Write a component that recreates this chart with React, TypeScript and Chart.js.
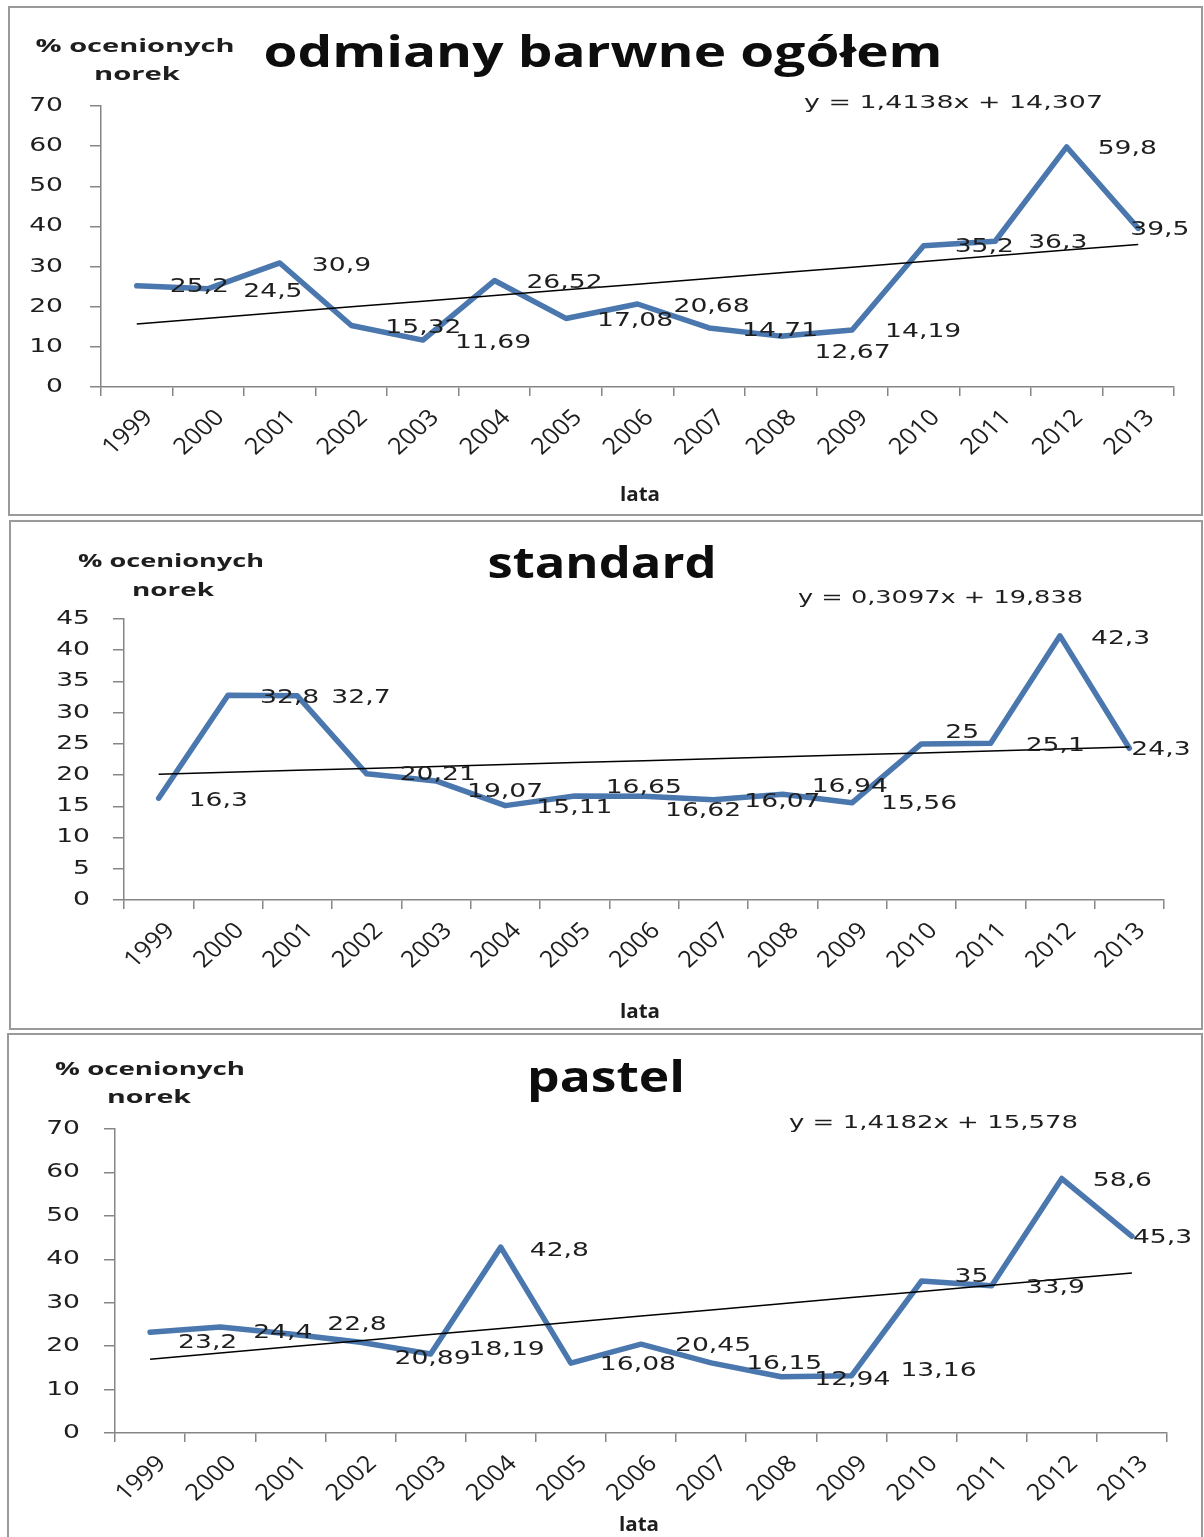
import React, { useEffect, useRef } from "react";
import { Chart, registerables } from "chart.js";

Chart.register(...registerables);

// ---- data -------------------------------------------------------------
const YEARS = ["1999", "2000", "2001", "2002", "2003", "2004", "2005", "2006", "2007", "2008", "2009", "2010", "2011", "2012", "2013"];

// % ocenionych norek
const OGOLEM = [25.2, 24.5, 30.9, 15.32, 11.69, 26.52, 17.08, 20.68, 14.71, 12.67, 14.19, 35.2, 36.3, 59.8, 39.5];
const STANDARD = [16.3, 32.8, 32.7, 20.21, 19.07, 15.11, 16.65, 16.62, 16.07, 16.94, 15.56, 25, 25.1, 42.3, 24.3];
const PASTEL = [23.2, 24.4, 22.8, 20.89, 18.19, 42.8, 16.08, 20.45, 16.15, 12.94, 13.16, 35, 33.9, 58.6, 45.3];

// linear trend: [slope, intercept], x = 1 for 1999
const OGOLEM_TREND = [1.4138, 14.307];
const STANDARD_TREND = [0.3097, 19.838];
const PASTEL_TREND = [1.4182, 15.578];

// y axis: [min, max, step]
const OGOLEM_Y = [0, 70, 10];
const STANDARD_Y = [0, 45, 5];
const PASTEL_Y = [0, 70, 10];

const TITLES = ["odmiany barwne ogółem", "standard", "pastel"];
const Y_TITLE = ["% ocenionych", "norek"];
const X_TITLE = "lata";

// ---- styles -----------------------------------------------------------
const PAGE_W = 1204;
const LINE_BLUE = "#4a77ae";
const AXIS_GRAY = "#868686";
const FRAME_GRAY = "#9a9a9a";
const TEXT = "#1e1e1e";
const NUM_FONT = '19px "DejaVu Sans"';
const NUM_SX = 1.4;
const EQ_FONT = '18px "DejaVu Sans"';
const YEAR_FONT = '23px "Open Sans"';
const YEAR_SX = 1.12;
const TITLE_FONT = '700 43px "Open Sans"';
const AXIS_TITLE_FONT = '700 18px "Open Sans"';
const X_TITLE_FONT = '700 20px "Open Sans"';

type Box = { x: number; y: number; w: number };

type Panel = {
  values: number[];
  trend: number[];
  yAxis: number[];
  title: string;
  top: number;
  height: number;
  plot: { left: number; right: number; top: number; bottom: number };
  frame: { x: number; y: number; w: number; h: number };
  titleBox: Box; // centre x, baseline y, width
  yTitleBoxes: Box[]; // centre x, middle y, width
  eqBox: Box; // left x, middle y, width
  xTitleBox: Box;
  yLabelGap: number;
  labelOffsets: number[][]; // [dx, dy] from point to label's left/middle
};

const PANELS: Panel[] = [
  {
    values: OGOLEM,
    trend: OGOLEM_TREND,
    yAxis: OGOLEM_Y,
    title: TITLES[0],
    top: 0,
    height: 518,
    plot: { left: 101, right: 1174, top: 106, bottom: 387 },
    frame: { x: 9, y: 7, w: 1193, h: 508 },
    titleBox: { x: 603, y: 67, w: 679 },
    yTitleBoxes: [
      { x: 135, y: 47, w: 199 },
      { x: 137, y: 75, w: 86 },
    ],
    eqBox: { x: 804, y: 103, w: 299 },
    xTitleBox: { x: 640, y: 495, w: 40 },
    yLabelGap: 38,
    labelOffsets: [
      [33, 1], [35, 3], [32, 3], [34, 3], [32, 3], [32, 3], [31, 3], [36, 3],
      [33, 3], [34, 17], [33, 2], [31, 1], [33, 2], [31, 2], [-8, 2],
    ],
  },
  {
    values: STANDARD,
    trend: STANDARD_TREND,
    yAxis: STANDARD_Y,
    title: TITLES[1],
    top: 518,
    height: 513,
    plot: { left: 124, right: 1164, top: 101, bottom: 382 },
    frame: { x: 10, y: 3, w: 1192, h: 508 },
    titleBox: { x: 602, y: 60, w: 229 },
    yTitleBoxes: [
      { x: 171, y: 44, w: 186 },
      { x: 173, y: 73, w: 82 },
    ],
    eqBox: { x: 798, y: 80, w: 285 },
    xTitleBox: { x: 640, y: 494, w: 40 },
    yLabelGap: 34,
    labelOffsets: [
      [30, 3], [32, 3], [34, 2], [33, 1], [31, 11], [31, 2], [31, -8], [21, 15],
      [31, 2], [29, -7], [29, 1], [24, -11], [35, 3], [31, 3], [2, 2],
    ],
  },
  {
    values: PASTEL,
    trend: PASTEL_TREND,
    yAxis: PASTEL_Y,
    title: TITLES[2],
    top: 1031,
    height: 506,
    plot: { left: 115, right: 1167, top: 98, bottom: 402 },
    frame: { x: 8, y: 3, w: 1194, h: 520 },
    titleBox: { x: 606, y: 61, w: 158 },
    yTitleBoxes: [
      { x: 150, y: 39, w: 190 },
      { x: 149, y: 67, w: 84 },
    ],
    eqBox: { x: 789, y: 92, w: 289 },
    xTitleBox: { x: 639, y: 494, w: 40 },
    yLabelGap: 35,
    labelOffsets: [
      [28, 11], [33, 6], [37, -9], [34, 17], [38, -4], [29, 4], [29, 2], [34, 2],
      [35, 1], [33, 3], [49, -5], [33, -4], [34, 2], [31, 3], [1, 2],
    ],
  },
];

// ---- helpers ----------------------------------------------------------
const fmt = (v: number) => String(v).replace(".", ",");

function drawText(
  ctx: CanvasRenderingContext2D,
  text: string,
  x: number,
  y: number,
  o: {
    font: string;
    align?: "left" | "center" | "right";
    baseline?: CanvasTextBaseline;
    width?: number;
    sx?: number;
    color?: string;
  }
) {
  ctx.save();
  ctx.font = o.font;
  ctx.fillStyle = o.color ?? TEXT;
  ctx.textBaseline = o.baseline ?? "middle";
  ctx.textAlign = "left";
  const natural = ctx.measureText(text).width;
  const sx = o.width ? o.width / natural : o.sx ?? 1;
  const w = natural * sx;
  const align = o.align ?? "left";
  const left = align === "left" ? x : align === "right" ? x - w : x - w / 2;
  ctx.translate(left, y);
  ctx.scale(sx, 1);
  ctx.fillText(text, 0, 0);
  ctx.restore();
}

function decorPlugin(p: Panel) {
  return {
    id: "panelDecor",
    beforeDraw(chart: any) {
      const ctx: CanvasRenderingContext2D = chart.ctx;
      ctx.save();
      ctx.fillStyle = "#ffffff";
      ctx.fillRect(0, 0, chart.width, chart.height);
      ctx.strokeStyle = FRAME_GRAY;
      ctx.lineWidth = 2;
      ctx.strokeRect(p.frame.x, p.frame.y, p.frame.w, p.frame.h);
      ctx.restore();

      drawText(ctx, p.title, p.titleBox.x, p.titleBox.y, {
        font: TITLE_FONT,
        align: "center",
        baseline: "alphabetic",
        width: p.titleBox.w,
        color: "#0d0d0d",
      });
      Y_TITLE.forEach((t, i) => {
        const b = p.yTitleBoxes[i];
        drawText(ctx, t, b.x, b.y, { font: AXIS_TITLE_FONT, align: "center", width: b.w });
      });
      const eq = `y = ${fmt(p.trend[0])}x + ${fmt(p.trend[1])}`;
      drawText(ctx, eq, p.eqBox.x, p.eqBox.y, { font: EQ_FONT, width: p.eqBox.w });
      drawText(ctx, X_TITLE, p.xTitleBox.x, p.xTitleBox.y, {
        font: X_TITLE_FONT,
        align: "center",
        width: p.xTitleBox.w,
      });
    },
    afterDraw(chart: any) {
      const ctx: CanvasRenderingContext2D = chart.ctx;
      const area = chart.chartArea;

      // y tick labels
      const ys = chart.scales.y;
      ys.ticks.forEach((t: any) => {
        drawText(ctx, String(t.value), area.left - p.yLabelGap, ys.getPixelForValue(t.value), {
          font: NUM_FONT,
          sx: NUM_SX,
          align: "right",
        });
      });

      // rotated category labels
      const xs = chart.scales.x;
      xs.ticks.forEach((t: any, i: number) => {
        const px = xs.getPixelForTick(i);
        ctx.save();
        ctx.translate(px + 12, area.bottom + 27);
        ctx.scale(YEAR_SX, 1);
        ctx.rotate(-Math.PI / 4);
        ctx.font = YEAR_FONT;
        ctx.fillStyle = TEXT;
        ctx.textAlign = "right";
        ctx.textBaseline = "middle";
        ctx.fillText(String(xs.getLabelForValue(t.value)), 0, 0);
        ctx.restore();
      });

      // data labels
      const meta = chart.getDatasetMeta(0);
      meta.data.forEach((pt: any, i: number) => {
        const [dx, dy] = p.labelOffsets[i];
        drawText(ctx, fmt(p.values[i]), pt.x + dx, pt.y + dy, { font: NUM_FONT, sx: NUM_SX });
      });
    },
  };
}

function PanelChart({ panel }: { panel: Panel }) {
  const ref = useRef<HTMLCanvasElement | null>(null);

  useEffect(() => {
    if (!ref.current) return;
    const p = panel;
    const trendData = YEARS.map((_, i) => p.trend[0] * (i + 1) + p.trend[1]);
    const chart = new Chart(ref.current, {
      type: "line",
      data: {
        labels: YEARS,
        datasets: [
          {
            data: p.values,
            borderColor: LINE_BLUE,
            borderWidth: 5.5,
            pointRadius: 0,
            tension: 0,
            borderJoinStyle: "round",
            borderCapStyle: "round",
            order: 1,
          },
          {
            data: trendData,
            borderColor: "#000000",
            borderWidth: 1.5,
            pointRadius: 0,
            tension: 0,
            order: 0,
          },
        ],
      },
      options: {
        animation: false,
        responsive: false,
        maintainAspectRatio: false,
        devicePixelRatio: 1,
        events: [],
        layout: {
          autoPadding: false,
          padding: { left: 0, right: PAGE_W - p.plot.right, top: p.plot.top, bottom: 0 },
        },
        plugins: {
          legend: { display: false },
          tooltip: { enabled: false },
          title: { display: false },
        },
        scales: {
          x: {
            type: "category",
            offset: true,
            grid: {
              offset: true,
              drawOnChartArea: false,
              drawTicks: true,
              tickLength: 9,
              color: AXIS_GRAY,
              lineWidth: 1.5,
            },
            border: { color: AXIS_GRAY, width: 1.5 },
            ticks: { display: false },
            afterFit: (s: any) => {
              s.height = p.height - p.plot.bottom;
              s.paddingLeft = 0;
              s.paddingRight = 0;
            },
          },
          y: {
            min: p.yAxis[0],
            max: p.yAxis[1],
            ticks: { stepSize: p.yAxis[2], display: false },
            grid: {
              drawOnChartArea: false,
              drawTicks: true,
              tickLength: 11,
              color: AXIS_GRAY,
              lineWidth: 1.5,
            },
            border: { color: AXIS_GRAY, width: 1.5 },
            afterFit: (s: any) => {
              s.width = p.plot.left;
              s.paddingTop = 0;
              s.paddingBottom = 0;
            },
          },
        },
      } as any,
      plugins: [decorPlugin(p)],
    });
    return () => chart.destroy();
  }, [panel]);

  return (
    <canvas
      ref={ref}
      width={PAGE_W}
      height={panel.height}
      style={{
        position: "absolute",
        left: 0,
        top: panel.top,
        width: PAGE_W,
        height: panel.height,
        display: "block",
      }}
    />
  );
}

export default function App() {
  return (
    <div
      style={{
        position: "absolute",
        left: 0,
        top: 0,
        width: PAGE_W,
        height: 1537,
        background: "#ffffff",
        overflow: "hidden",
      }}
    >
      {PANELS.map((p, i) => (
        <PanelChart key={i} panel={p} />
      ))}
    </div>
  );
}
